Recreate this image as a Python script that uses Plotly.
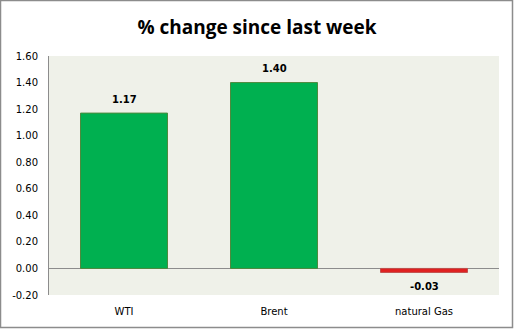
import plotly.graph_objects as go

categories = ["WTI", "Brent", "natural Gas"]
values = [1.17, 1.40, -0.03]
labels = ["1.17", "1.40", "-0.03"]
tick_vals = [-0.2, 0.0, 0.2, 0.4, 0.6, 0.8, 1.0, 1.2, 1.4, 1.6]
tick_text = ["-0.20", "0.00", "0.20", "0.40", "0.60", "0.80", "1.00", "1.20", "1.40", "1.60"]

colors = ["#00B050" if v >= 0 else "#E02020" for v in values]
line_colors = ["#4E8A3E" if v >= 0 else "#C0504D" for v in values]

W, H = 514, 329
L, R, T, B = 49, 15, 56, 34
pw, ph = W - L - R, H - T - B

fig = go.Figure(go.Bar(
    x=categories, y=values,
    marker=dict(color=colors, line=dict(color=line_colors, width=1)),
    hoverinfo="x+y",
))

annotations = []
for c, v, t in zip(categories, values, labels):
    annotations.append(dict(
        x=c, y=v, xref="x", yref="y", text="<b>%s</b>" % t, showarrow=False,
        yshift=14 if v >= 0 else -14, yanchor="middle",
        font=dict(family="DejaVu Sans", size=10, color="#000000"),
    ))

fig.update_layout(
    width=W, height=H,
    margin=dict(l=L, r=R, t=T, b=B),
    paper_bgcolor="white",
    plot_bgcolor="#EFF1E9",
    bargap=0.42,
    showlegend=False,
    annotations=annotations,
    title=dict(text="<b>% change since last week</b>", x=0.5, xanchor="center",
               y=1 - 27 / H, yanchor="middle",
               font=dict(family="Open Sans", size=19, color="#000000")),
    xaxis=dict(showline=False, showgrid=False, ticks="", ticklabelstandoff=9,
               tickfont=dict(family="DejaVu Sans", size=10, color="#000000")),
    yaxis=dict(range=[-0.2, 1.6], tickvals=tick_vals, ticktext=tick_text,
               showgrid=False, zeroline=True, zerolinecolor="#8C8C8C", zerolinewidth=1,
               showline=True, linecolor="#8C8C8C", linewidth=1, ticks="",
               ticklabelstandoff=8,
               tickfont=dict(family="DejaVu Sans", size=10, color="#000000")),
    shapes=[dict(type="rect", xref="paper", yref="paper",
                 x0=(0.5 - L) / pw, x1=(W - 1.5 - L) / pw,
                 y0=-(B - 1.5) / ph, y1=1 + (T - 0.5) / ph,
                 line=dict(color="#8C8C8C", width=1.5), layer="above")],
)

fig.write_html("out.html")
